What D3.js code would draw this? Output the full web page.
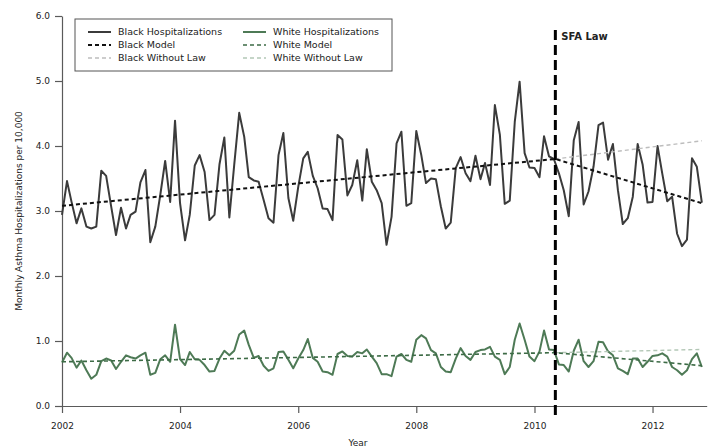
<!DOCTYPE html>
<html>
<head>
<meta charset="utf-8">
<script src="https://cdn.jsdelivr.net/npm/d3@7"></script>
<style>
  body { margin: 0; background: #fff; }
  text { font-family: "DejaVu Sans", Verdana, sans-serif; fill: #222; }
</style>
</head>
<body>
<script>
// monthly rates per 10,000, Jan 2002 - Nov 2012
const black = [
  2.94, 3.46, 3.14, 2.81, 3.04, 2.76, 2.73, 2.76, 3.62, 3.54, 3.07, 2.63,
  3.05, 2.73, 2.94, 2.99, 3.44, 3.63, 2.52, 2.76, 3.25, 3.77, 3.14, 4.39,
  3.12, 2.55, 2.94, 3.70, 3.86, 3.60, 2.86, 2.94, 3.72, 4.13, 2.90, 3.71,
  4.51, 4.14, 3.52, 3.47, 3.45, 3.17, 2.89, 2.82, 3.86, 4.20, 3.20, 2.85,
  3.37, 3.81, 3.91, 3.54, 3.35, 3.04, 3.03, 2.86, 4.17, 4.10, 3.24, 3.40,
  3.78, 3.16, 3.95, 3.45, 3.32, 3.12, 2.48, 2.91, 4.04, 4.22, 3.08, 3.12,
  4.23, 3.86, 3.43, 3.50, 3.49, 3.07, 2.73, 2.82, 3.66, 3.83, 3.58, 3.46,
  3.85, 3.49, 3.74, 3.40, 4.63, 4.17, 3.11, 3.16, 4.37, 4.99, 3.89, 3.67,
  3.66, 3.52, 4.15, 3.84, 3.80, 3.58, 3.32, 2.92, 4.09, 4.37, 3.10, 3.30,
  3.68, 4.32, 4.36, 3.79, 4.03, 3.32, 2.80, 2.89, 3.22, 4.03, 3.71, 3.13,
  3.14, 4.00, 3.58, 3.15, 3.22, 2.65, 2.46, 2.56, 3.81, 3.68, 3.13
];
const white = [
  0.67, 0.82, 0.74, 0.59, 0.70, 0.55, 0.42, 0.48, 0.69, 0.73, 0.70, 0.57,
  0.68, 0.78, 0.75, 0.73, 0.78, 0.82, 0.48, 0.51, 0.72, 0.78, 0.68, 1.25,
  0.72, 0.63, 0.83, 0.72, 0.71, 0.63, 0.53, 0.54, 0.73, 0.85, 0.78, 0.85,
  1.10, 1.16, 0.94, 0.74, 0.77, 0.62, 0.54, 0.58, 0.83, 0.84, 0.71, 0.58,
  0.73, 0.86, 1.03, 0.74, 0.68, 0.53, 0.52, 0.48, 0.80, 0.84, 0.77, 0.76,
  0.83, 0.81, 0.87, 0.76, 0.66, 0.49, 0.49, 0.46, 0.76, 0.80, 0.71, 0.68,
  1.02, 1.09, 1.04, 0.86, 0.81, 0.60, 0.53, 0.52, 0.73, 0.89, 0.77, 0.71,
  0.83, 0.86, 0.87, 0.91, 0.76, 0.71, 0.49, 0.60, 1.02, 1.27, 1.02, 0.76,
  0.69, 0.84, 1.16, 0.87, 0.86, 0.64, 0.63, 0.53, 0.85, 1.02, 0.69, 0.60,
  0.69, 0.99, 0.98, 0.84, 0.78, 0.58, 0.54, 0.49, 0.73, 0.73, 0.60, 0.68,
  0.77, 0.78, 0.81, 0.76, 0.60, 0.55, 0.48, 0.55, 0.72, 0.81, 0.60
];

// model lines: start, law, end
const modelDates = ['2002-01-01', '2010-05-10', '2012-11-01'];
const blackModel = [3.08, 3.80, 3.12];
const whiteModel = [0.68, 0.82, 0.62];
const withoutDates = ['2010-05-10', '2012-11-01'];
const blackWithout = [3.80, 4.08];
const whiteWithout = [0.82, 0.87];
const lawDate = '2010-05-10';

const yTicks = [0, 1, 2, 3, 4, 5, 6];
const xTickYears = [2002, 2004, 2006, 2008, 2010, 2012];

const width = 713;
const height = 448;
const margin = { top: 16, right: 6, bottom: 42, left: 62 };

const col = {
  black: '#3b3b3b', blackModel: '#111', blackWithout: '#bdbdbd',
  white: '#4e7a56', whiteModel: '#3d6b46', whiteWithout: '#b3c7b6'
};

window.addEventListener('load', () => { draw(); }, false);

function draw() {
  const chartWidth = width - margin.left - margin.right;
  const chartHeight = height - margin.top - margin.bottom;
  const parse = d3.timeParse('%Y-%m-%d');

  const svg = d3.select('body').append('svg')
    .attr('width', width)
    .attr('height', height);

  const g = svg.append('g')
    .attr('transform', `translate(${margin.left}, ${margin.top})`);

  const xScale = d3.scaleTime()
    .domain([new Date(2002, 0, 1), new Date(2012, 11, 1)])
    .range([0, chartWidth - 0.3]);
  const yScale = d3.scaleLinear()
    .domain([0, 6])
    .range([chartHeight, 0]);

  // axes
  const xAxis = g.append('g')
    .attr('transform', `translate(0, ${chartHeight})`)
    .call(d3.axisBottom(xScale)
      .tickValues(xTickYears.map(y => new Date(y, 0, 1)))
      .tickFormat(d3.timeFormat('%Y'))
      .tickSize(7).tickSizeOuter(0).tickPadding(10));
  const yAxis = g.append('g')
    .call(d3.axisLeft(yScale)
      .tickValues(yTicks)
      .tickFormat(d3.format('.1f'))
      .tickSize(7).tickSizeOuter(0).tickPadding(5));
  [xAxis, yAxis].forEach(a => {
    a.selectAll('path, line').attr('stroke', '#5a5a5a').attr('stroke-width', 1.2);
    a.selectAll('text').style('font-size', '9px').style('font-family', '"DejaVu Sans", sans-serif');
  });

  svg.append('text')
    .attr('x', 358).attr('y', 446)
    .attr('text-anchor', 'middle')
    .style('font-size', '9px')
    .text('Year');
  svg.append('text')
    .attr('transform', `translate(22, ${margin.top + chartHeight / 2}) rotate(-90)`)
    .attr('text-anchor', 'middle')
    .style('font-size', '9px')
    .text('Monthly Asthma Hospitalizations per 10,000');

  const monthly = arr => arr.map((v, i) => ({ date: new Date(2002, i, 1), v: v }));
  const pts = (dates, vals) => vals.map((v, i) => ({ date: parse(dates[i]), v: v }));

  const line = d3.line()
    .x(d => xScale(d.date))
    .y(d => yScale(d.v));

  function addLine(data, stroke, w, dash) {
    g.append('path')
      .datum(data)
      .attr('fill', 'none')
      .attr('stroke', stroke)
      .attr('stroke-width', w)
      .attr('stroke-linejoin', 'round')
      .attr('stroke-dasharray', dash || null)
      .attr('d', line);
  }

  addLine(monthly(black), col.black, 2);
  addLine(monthly(white), col.white, 2);
  addLine(pts(withoutDates, blackWithout), col.blackWithout, 1.4, '4,3');
  addLine(pts(withoutDates, whiteWithout), col.whiteWithout, 1.4, '4,3');
  addLine(pts(modelDates, blackModel), col.blackModel, 2, '4,3');
  addLine(pts(modelDates, whiteModel), col.whiteModel, 1.6, '4,3');

  // SFA law marker
  const lx = xScale(parse(lawDate));
  g.append('line')
    .attr('x1', lx).attr('x2', lx)
    .attr('y1', 14).attr('y2', chartHeight + 12)
    .attr('stroke', '#000')
    .attr('stroke-width', 3)
    .attr('stroke-dasharray', '10,5');
  g.append('text')
    .attr('x', lx + 6).attr('y', 24)
    .style('font-size', '10px')
    .style('font-weight', 'bold')
    .text('SFA Law');

  // legend
  const legendItems = [
    { label: 'Black Hospitalizations', stroke: col.black, w: 2, dash: null },
    { label: 'Black Model', stroke: col.blackModel, w: 2, dash: '4,3' },
    { label: 'Black Without Law', stroke: col.blackWithout, w: 1.4, dash: '4,3' },
    { label: 'White Hospitalizations', stroke: col.white, w: 2, dash: null },
    { label: 'White Model', stroke: col.whiteModel, w: 1.6, dash: '4,3' },
    { label: 'White Without Law', stroke: col.whiteWithout, w: 1.4, dash: '4,3' }
  ];
  const legend = svg.append('g').attr('transform', 'translate(75, 19)');
  legend.append('rect')
    .attr('width', 317).attr('height', 52)
    .attr('fill', '#fff')
    .attr('stroke', '#555')
    .attr('stroke-width', 1);
  const item = legend.selectAll('g.item')
    .data(legendItems)
    .enter().append('g')
    .attr('transform', (d, i) => `translate(${i < 3 ? 13 : 168}, ${13 + (i % 3) * 13})`);
  item.append('line')
    .attr('x1', 0).attr('x2', 23)
    .attr('stroke', d => d.stroke)
    .attr('stroke-width', d => d.w)
    .attr('stroke-dasharray', d => d.dash);
  item.append('text')
    .attr('x', 30).attr('dy', '0.35em')
    .style('font-size', '9.5px')
    .text(d => d.label);
}
</script>
</body>
</html>
